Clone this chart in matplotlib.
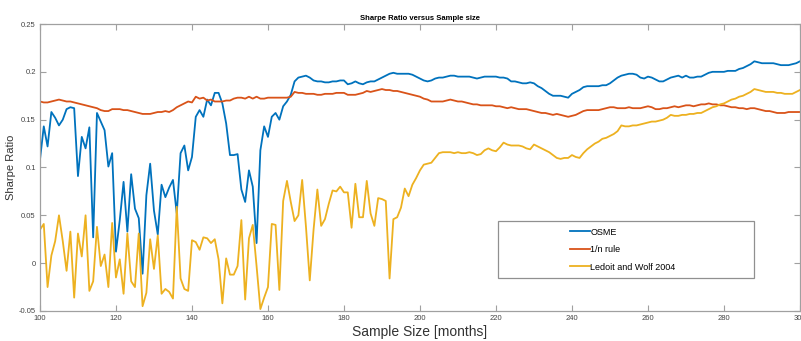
import numpy as np
import matplotlib
matplotlib.use("Agg")
import matplotlib.pyplot as plt
from matplotlib.patches import Rectangle

plt.rcParams['font.family'] = ['Liberation Sans', 'DejaVu Sans']

# sample sizes in months
months = np.arange(100, 301)

# OSME
osme = [
    0.108, 0.143, 0.122, 0.158, 0.152, 0.144, 0.150, 0.161, 0.163, 0.162,  # 100-109
    0.091, 0.132, 0.120, 0.142, 0.027, 0.157, 0.148, 0.139, 0.101, 0.115,  # 110-119
    0.012, 0.045, 0.085, 0.033, 0.093, 0.057, 0.047, -0.011, 0.071, 0.104,  # 120-129
    0.055, 0.030, 0.082, 0.069, 0.079, 0.087, 0.052, 0.115, 0.123, 0.097,  # 130-139
    0.111, 0.153, 0.160, 0.153, 0.171, 0.165, 0.178, 0.178, 0.167, 0.146,  # 140-149
    0.113, 0.113, 0.114, 0.077, 0.064, 0.097, 0.080, 0.021, 0.118, 0.143,  # 150-159
    0.132, 0.153, 0.157, 0.150, 0.164, 0.169, 0.176, 0.190, 0.194, 0.195,  # 160-169
    0.196, 0.194, 0.191, 0.190, 0.190, 0.189, 0.189, 0.190, 0.190, 0.191,  # 170-179
    0.191, 0.187, 0.188, 0.190, 0.188, 0.187, 0.189, 0.190, 0.190, 0.192,  # 180-189
    0.194, 0.196, 0.198, 0.199, 0.198, 0.198, 0.198, 0.198, 0.197, 0.195,  # 190-199
    0.193, 0.191, 0.190, 0.191, 0.193, 0.194, 0.194, 0.195, 0.196, 0.196,  # 200-209
    0.195, 0.195, 0.195, 0.195, 0.194, 0.193, 0.194, 0.195, 0.195, 0.195,  # 210-219
    0.195, 0.194, 0.194, 0.193, 0.190, 0.190, 0.189, 0.188, 0.188, 0.189,  # 220-229
    0.188, 0.185, 0.183, 0.180, 0.177, 0.175, 0.175, 0.175, 0.174, 0.173,  # 230-239
    0.177, 0.179, 0.181, 0.184, 0.185, 0.185, 0.185, 0.185, 0.186, 0.186,  # 240-249
    0.188, 0.191, 0.194, 0.196, 0.197, 0.198, 0.198, 0.197, 0.194, 0.193,  # 250-259
    0.195, 0.194, 0.192, 0.190, 0.190, 0.192, 0.194, 0.195, 0.196, 0.194,  # 260-269
    0.196, 0.194, 0.194, 0.195, 0.195, 0.197, 0.199, 0.200, 0.200, 0.200,  # 270-279
    0.200, 0.201, 0.201, 0.201, 0.203, 0.204, 0.206, 0.208, 0.211, 0.210,  # 280-289
    0.209, 0.209, 0.209, 0.209, 0.208, 0.207, 0.207, 0.207, 0.208, 0.209,  # 290-299
    0.211,
]

# 1/n rule
one_over_n = [
    0.169, 0.168, 0.168, 0.169, 0.170, 0.171, 0.170, 0.169, 0.169, 0.168,
    0.167, 0.166, 0.165, 0.164, 0.163, 0.162, 0.160, 0.159, 0.159, 0.161,
    0.161, 0.161, 0.160, 0.160, 0.159, 0.158, 0.157, 0.156, 0.156, 0.156,
    0.157, 0.158, 0.158, 0.159, 0.158, 0.160, 0.163, 0.165, 0.167, 0.169,
    0.168, 0.174, 0.172, 0.173, 0.170, 0.171, 0.169, 0.169, 0.169, 0.170,
    0.170, 0.172, 0.173, 0.173, 0.172, 0.174, 0.172, 0.174, 0.172, 0.172,
    0.173, 0.173, 0.173, 0.173, 0.173, 0.173, 0.174, 0.179, 0.178, 0.178,
    0.177, 0.177, 0.177, 0.176, 0.176, 0.177, 0.177, 0.177, 0.178, 0.178,
    0.178, 0.176, 0.176, 0.176, 0.177, 0.178, 0.180, 0.179, 0.180, 0.181,
    0.182, 0.181, 0.181, 0.180, 0.180, 0.179, 0.178, 0.177, 0.176, 0.175,
    0.174, 0.172, 0.171, 0.169, 0.169, 0.169, 0.169, 0.170, 0.171, 0.170,
    0.169, 0.169, 0.168, 0.167, 0.166, 0.166, 0.165, 0.165, 0.165, 0.165,
    0.164, 0.164, 0.163, 0.162, 0.163, 0.162, 0.161, 0.161, 0.161, 0.160,
    0.159, 0.158, 0.157, 0.157, 0.156, 0.155, 0.156, 0.155, 0.154, 0.153,
    0.154, 0.155, 0.157, 0.159, 0.160, 0.160, 0.160, 0.160, 0.161, 0.162,
    0.163, 0.163, 0.162, 0.162, 0.162, 0.163, 0.162, 0.162, 0.162, 0.163,
    0.164, 0.163, 0.161, 0.161, 0.162, 0.162, 0.163, 0.164, 0.163, 0.164,
    0.165, 0.165, 0.164, 0.165, 0.166, 0.166, 0.167, 0.166, 0.166, 0.165,
    0.165, 0.164, 0.163, 0.163, 0.162, 0.162, 0.161, 0.162, 0.162, 0.161,
    0.160, 0.159, 0.159, 0.158, 0.157, 0.157, 0.157, 0.158, 0.158, 0.158,
    0.158,
]

# Ledoit and Wolf 2004
ledoit_wolf = [
    0.035, 0.041, -0.025, 0.008, 0.023, 0.050, 0.023, -0.008, 0.033, -0.036,
    0.031, 0.007, 0.050, -0.029, -0.019, 0.038, -0.003, 0.009, -0.025, 0.042,
    -0.015, 0.004, -0.032, 0.031, -0.019, -0.025, 0.031, -0.045, -0.031, 0.025,
    -0.006, 0.029, -0.032, -0.027, -0.030, -0.037, 0.059, -0.016, -0.027, -0.029,
    0.024, 0.022, 0.014, 0.027, 0.026, 0.021, 0.025, 0.004, -0.042, 0.005,
    -0.012, -0.012, -0.003, 0.045, -0.038, 0.026, 0.040, -0.003, -0.048, -0.036,
    -0.025, 0.041, 0.040, -0.028, 0.065, 0.086, 0.064, 0.044, 0.050, 0.087,
    0.038, -0.018, 0.035, 0.077, 0.039, 0.046, 0.062, 0.076, 0.075, 0.080,
    0.074, 0.074, 0.037, 0.083, 0.048, 0.048, 0.086, 0.052, 0.039, 0.068,
    0.067, 0.065, -0.016, 0.046, 0.048, 0.058, 0.078, 0.070, 0.082, 0.089,
    0.097, 0.103, 0.104, 0.105, 0.110, 0.115, 0.116, 0.116, 0.116, 0.115,
    0.116, 0.115, 0.115, 0.116, 0.115, 0.113, 0.114, 0.118, 0.120, 0.118,
    0.117, 0.121, 0.126, 0.124, 0.123, 0.123, 0.123, 0.122, 0.120, 0.119,
    0.124, 0.122, 0.120, 0.118, 0.116, 0.113, 0.110, 0.109, 0.110, 0.110,
    0.113, 0.111, 0.110, 0.115, 0.119, 0.122, 0.125, 0.127, 0.130, 0.131,
    0.133, 0.135, 0.138, 0.144, 0.143, 0.143, 0.144, 0.144, 0.145, 0.146,
    0.147, 0.148, 0.148, 0.149, 0.150, 0.152, 0.155, 0.154, 0.154, 0.155,
    0.155, 0.156, 0.156, 0.157, 0.157, 0.159, 0.161, 0.163, 0.164, 0.166,
    0.167, 0.169, 0.171, 0.172, 0.174, 0.175, 0.177, 0.179, 0.182, 0.181,
    0.180, 0.179, 0.179, 0.179, 0.178, 0.178, 0.177, 0.177, 0.177, 0.179,
    0.181,
]

series_names = ["OSME", "1/n rule", "Ledoit and Wolf 2004"]
series_colors = ["#0072BD", "#D95319", "#EDB120"]

x_ticks = list(range(100, 301, 20))
y_ticks = [-0.05, 0, 0.05, 0.1, 0.15, 0.2, 0.25]
y_tick_labels = ["-0.05", "0", "0.05", "0.1", "0.15", "0.2", "0.25"]

fig = plt.figure(figsize=(8.01, 3.41), dpi=100)
ax = fig.add_axes([0.0499, 0.088, 0.9488, 0.8416])

for vals, name, col in zip([osme, one_over_n, ledoit_wolf], series_names, series_colors):
    ax.plot(months, vals, color=col, linewidth=1.3, label=name)

ax.set_xlim(100, 300)
ax.set_ylim(-0.05, 0.25)
ax.set_xticks(x_ticks)
ax.set_xticklabels([str(t) for t in x_ticks])
ax.set_yticks(y_ticks)
ax.set_yticklabels(y_tick_labels)
ax.tick_params(direction='in', top=True, right=True, length=4, width=0.8,
               labelsize=5.5, colors='#a0a0a0', labelcolor='#444444', pad=3)
for sp in ax.spines.values():
    sp.set_color('#a0a0a0')
    sp.set_linewidth(0.9)

ax.set_title("Sharpe Ratio versus Sample size", fontsize=5.5, fontweight='bold', pad=3)
ax.set_xlabel("Sample Size [months]", fontsize=10, color='#333333', labelpad=2)
ax.set_ylabel("Sharpe Ratio", fontsize=8, color='#333333', labelpad=2)

# legend box (MATLAB style, wide frame)
ax.add_patch(Rectangle((0.6026, 0.115), 0.337, 0.1986, transform=ax.transAxes,
                       facecolor='white', edgecolor='#909090', linewidth=0.9, zorder=4))
ax.legend(loc='center left', bbox_to_anchor=(0.697, 0.214), frameon=False,
          fontsize=6.5, handlelength=2.2, handletextpad=0.1, labelspacing=0.95,
          borderpad=0, borderaxespad=0).set_zorder(5)

fig.savefig("out.png", dpi=100)
